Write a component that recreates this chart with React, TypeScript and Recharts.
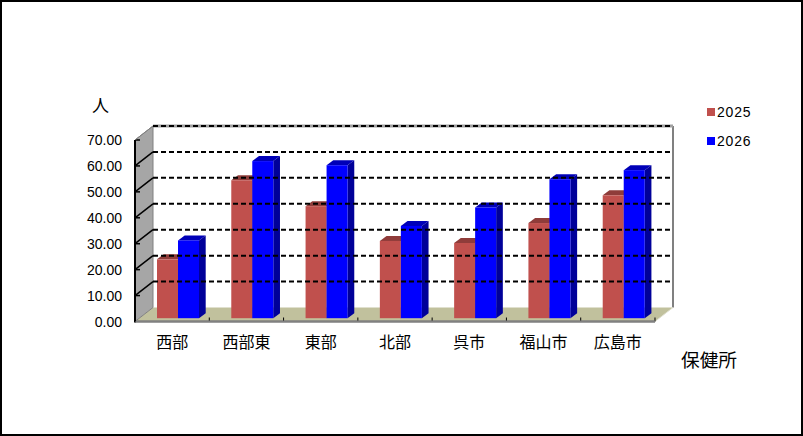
import React from 'react';
import { ComposedChart, Bar, XAxis, YAxis, ReferenceLine, Legend, ReferenceArea, Label } from 'recharts';

const categories = ['西部', '西部東', '東部', '北部', '呉市', '福山市', '広島市'];
const values2025 = [22.7, 53.2, 43.2, 29.8, 29.0, 36.7, 47.4];
const values2026 = [30.0, 60.6, 59.0, 35.6, 42.7, 53.6, 57.1];
const yTicks = [0, 10, 20, 30, 40, 50, 60, 70];
const gridValues = [10, 20, 30, 40, 50, 60, 70];

const rows = categories.map((name, i) => ({ name, y2025: values2025[i], y2026: values2026[i] }));

const DX = 18, DY = 14;
const LATIN = '"Liberation Sans", Arial, sans-serif';
const CJK = '"Noto Sans CJK JP", sans-serif';

const Walls = (p: any) => {
  const { x, y, width: w, height: h } = p;
  const b = y + h, r = x + w;
  return (
    <g>
      <polygon points={`${x},${y} ${x + DX},${y - DY} ${x + DX},${b - DY} ${x},${b}`} fill="#a6a6a6" />
      <polygon points={`${x},${b} ${x + DX},${b - DY} ${r + DX},${b - DY} ${r},${b}`} fill="#c1c19d" />
      <line x1={r + DX} y1={y - DY} x2={r + DX} y2={b - DY} stroke="#808080" strokeWidth={2} />
      <line x1={x + DX} y1={y - DY} x2={r + DX} y2={y - DY} stroke="#a0a0a0" strokeWidth={3} />
      <line x1={x} y1={y} x2={x + DX} y2={y - DY} stroke="#808080" />
      <line x1={x + DX} y1={y - DY} x2={x + DX} y2={b - DY} stroke="#808080" />
      <line x1={x} y1={b} x2={x + DX} y2={b - DY} stroke="#808080" />
      <line x1={r} y1={b} x2={r + DX} y2={b - DY} stroke="#e0e0d0" />
      <line x1={x} y1={b} x2={r} y2={b} stroke="#808080" strokeWidth={2} />
      <line x1={x} y1={y} x2={x} y2={b + 1} stroke="#000" strokeWidth={2} />
    </g>
  );
};

const GridLine = (p: any) => {
  const { x1, x2, y1 } = p;
  const isTop = y1 - DY < 130;
  return (
    <g>
      <line x1={x1} y1={y1} x2={x1 + 5} y2={y1} stroke="#000" strokeWidth={1.5} />
      <line x1={x1} y1={y1} x2={x1 + DX} y2={y1 - DY} stroke={isTop ? '#808080' : '#000'} strokeWidth={isTop ? 1 : 1.5} />
      <line x1={x1 + DX} y1={y1 - DY} x2={x2 + DX} y2={y1 - DY} stroke="#000" strokeWidth={2} strokeDasharray="5 3" />
    </g>
  );
};

const CategoryTick = (p: any) => {
  const { x1, y2, y1 } = p;
  const b = Math.max(y1, y2);
  return <line x1={x1 + 37.14} y1={b} x2={x1 + 37.14} y2={b - 4} stroke="#000" strokeWidth={1} />;
};

const makeBar = (face: string, side: string, top: string) => (p: any) => {
  const { x, y, width: w, height: h } = p;
  const shift = 6, up = 3.3, dx = 6.7, dy = 5;
  const l = x + shift, t = y - up, b = y + h - up, r = l + w;
  return (
    <g>
      <polygon points={`${l},${t} ${l + dx},${t - dy} ${r + dx},${t - dy} ${r},${t}`} fill={top} />
      <polygon points={`${r},${t} ${r + dx},${t - dy} ${r + dx},${b - dy} ${r},${b}`} fill={side} />
      <rect x={l} y={t} width={w} height={h} fill={face} />
    </g>
  );
};

const XTick = (p: any) => {
  const { x, y, payload } = p;
  return (
    <text x={x} y={y + 18} textAnchor="middle" fontFamily={CJK} fontSize={16} fill="#000">{payload.value}</text>
  );
};

const YTick = (p: any) => {
  const { y, payload } = p;
  return (
    <text x={122} y={y + 5} textAnchor="end" fontFamily={LATIN} fontSize={14} fill="#000">{payload.value.toFixed(2)}</text>
  );
};

const LegendBox = ({ payload }: any) => (
  <div>
    {(payload || []).map((e: any) => (
      <div key={e.value} style={{ display: 'flex', alignItems: 'center', height: 29 }}>
        <span style={{ width: 8, height: 8, background: e.color, marginRight: 2 }} />
        <span style={{ fontFamily: LATIN, fontSize: 14, letterSpacing: 0.8, color: '#000' }}>{e.value}</span>
      </div>
    ))}
  </div>
);

export default function App() {
  return (
    <div style={{ position: 'absolute', left: 0, top: 0, width: 803, height: 436, boxSizing: 'border-box', border: '2px solid #000', background: '#fff' }}>
      <div style={{ position: 'absolute', left: -2, top: -2 }}>
        <ComposedChart
          width={803}
          height={436}
          data={rows}
          barSize={21}
          barGap={0}
          margin={{ left: 75, right: 148, top: 140, bottom: 84.5 }}
        >
          <ReferenceArea y1={0} y2={70} shape={Walls} />
          {gridValues.map((v) => (
            <ReferenceLine key={v} y={v} shape={GridLine as any} />
          ))}
          {categories.map((c) => (
            <ReferenceLine key={c} x={c} shape={CategoryTick as any} />
          ))}
          <XAxis dataKey="name" height={30} tick={XTick} tickLine={false} axisLine={{ stroke: '#808080', strokeWidth: 2 }} interval={0}>
            <Label position="insideBottomRight" content={() => <text x={681} y={367} fontFamily={CJK} fontSize={18.7} fill="#000">保健所</text>} />
          </XAxis>
          <YAxis width={60} domain={[0, 70]} ticks={yTicks} interval={0} tick={YTick} tickLine={false} axisLine={{ stroke: '#000', strokeWidth: 2 }}>
            <Label position="insideTopLeft" content={() => <text x={92} y={112} fontFamily={CJK} fontSize={17} fill="#000">人</text>} />
          </YAxis>
          <Legend layout="vertical" align="center" verticalAlign="middle" content={LegendBox as any} wrapperStyle={{ left: 707, top: 97, width: 60 }} />
          <Bar dataKey="y2025" name="2025" fill="#c0504d" isAnimationActive={false} shape={makeBar('#c0504d', '#8f3c3a', '#8f3c3a')} />
          <Bar dataKey="y2026" name="2026" fill="#0000ff" isAnimationActive={false} shape={makeBar('#0000ff', '#000099', '#0000b8')} />
        </ComposedChart>
      </div>
    </div>
  );
}
